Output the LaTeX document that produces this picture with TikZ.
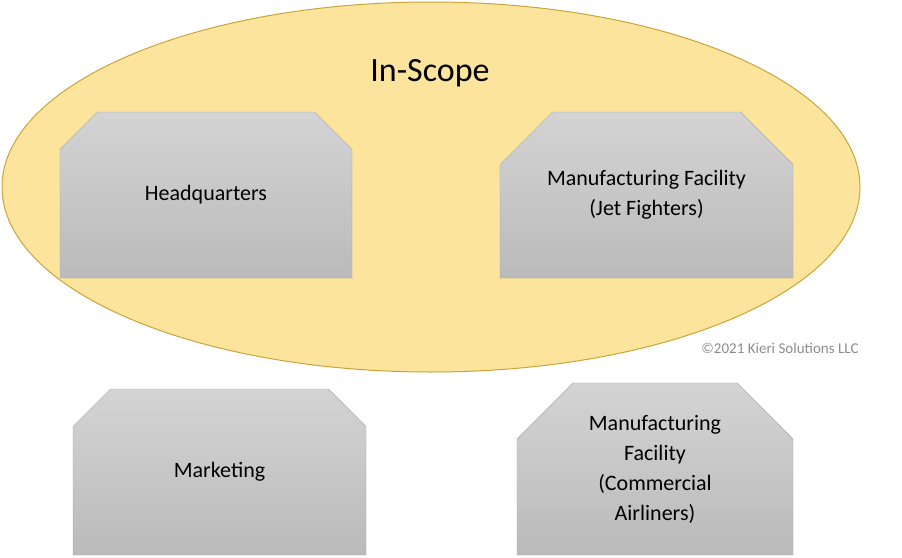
\documentclass[tikz,border=0pt]{standalone}
\usepackage{fontspec}
\setmainfont{Carlito}
\usetikzlibrary{shapes.misc,shapes.geometric}
\definecolor{scopefill}{HTML}{FCE49C}
\definecolor{scopeline}{HTML}{C9A43A}
\definecolor{boxline}{HTML}{A6A6A6}
\begin{document}
\begin{tikzpicture}
  [
    x=1pt, y=-1pt,
    unit/.style={chamfered rectangle, chamfered rectangle corners={north west, north east},
      chamfered rectangle xsep=28pt, chamfered rectangle ysep=28pt,
      draw=boxline, top color=black!17, bottom color=black!27,
      inner sep=0pt, font=\fontsize{22}{30}\selectfont, align=center},
  ]
  \useasboundingbox (0,0) rectangle (902,557);
  % scope
  \node[ellipse, draw=scopeline, fill=scopefill, line width=1pt,
    minimum width=858pt, minimum height=370pt, inner sep=0pt] (scope) at (431,187) {};
  \node[font=\fontsize{34}{40}\selectfont] (title) at (430,73) {In-Scope};
  % in scope units
  \node[unit, minimum width=292pt, minimum height=166pt] (hq) at (206,195) {Headquarters};
  \node[unit, minimum width=293pt, minimum height=166pt] (jet) at (646.5,195) {Manufacturing Facility\\(Jet Fighters)};
  % out of scope units
  \node[unit, minimum width=293pt, minimum height=166pt] (mkt) at (219.5,472) {Marketing};
  \node[unit, minimum width=276pt, minimum height=172pt] (air) at (655,469) {Manufacturing\\Facility\\(Commercial\\Airliners)};
  \node[text=black!45, font=\fontsize{15}{18}\selectfont] (copy) at (780,348) {©2021 Kieri Solutions LLC};
\end{tikzpicture}
\end{document}
